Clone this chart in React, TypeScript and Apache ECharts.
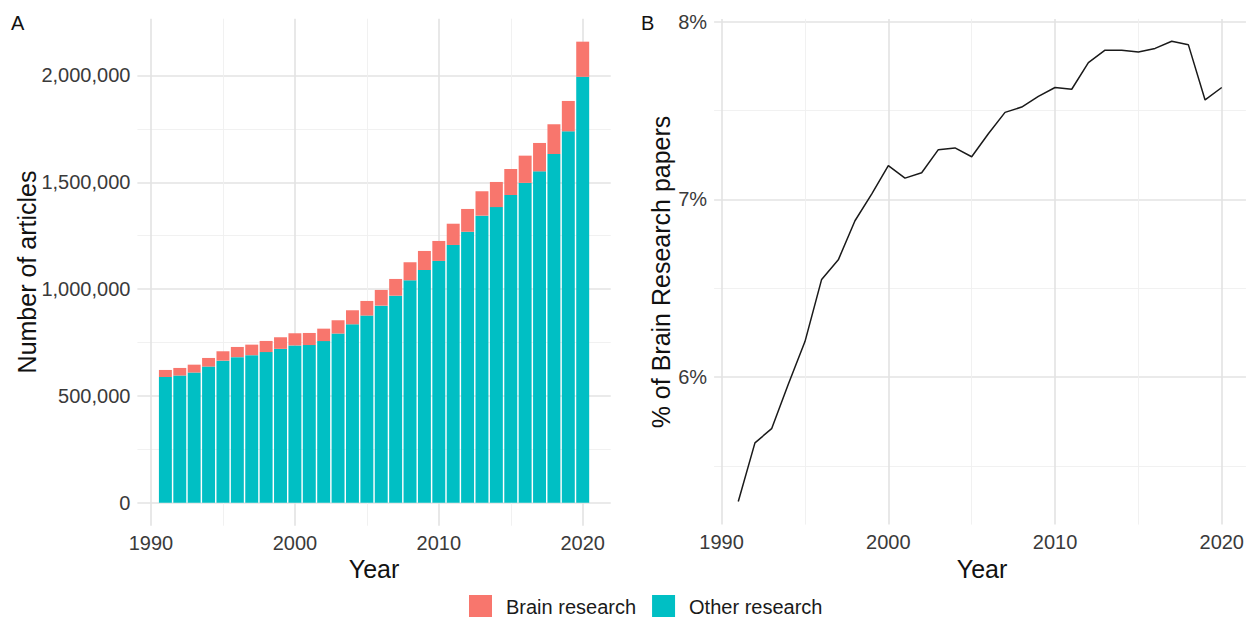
import React, { useEffect, useRef } from "react";
import * as echarts from "echarts";

// ---- data ----
const years = [
  1991, 1992, 1993, 1994, 1995, 1996, 1997, 1998, 1999, 2000,
  2001, 2002, 2003, 2004, 2005, 2006, 2007, 2008, 2009, 2010,
  2011, 2012, 2013, 2014, 2015, 2016, 2017, 2018, 2019, 2020,
];
const otherResearch = [
  588400, 595200, 609200, 637100, 664900, 681300, 690500, 705000, 720000, 736100,
  737900, 756400, 791800, 835100, 876000, 922500, 969000, 1041000, 1089200, 1131800,
  1206500, 1268300, 1343700, 1383800, 1440100, 1497200, 1551200, 1632300, 1738600, 1993700,
];
const brainResearch = [
  32900, 35500, 36900, 40400, 43900, 47700, 49300, 52100, 54400, 57000,
  56600, 58300, 62200, 65700, 68400, 73400, 78400, 84600, 89300, 93500,
  99500, 106800, 114300, 117700, 122300, 127500, 132900, 139400, 142200, 164700,
];
const brainPct = [
  5.30, 5.63, 5.71, 5.96, 6.20, 6.55, 6.66, 6.88, 7.03, 7.19,
  7.12, 7.15, 7.28, 7.29, 7.24, 7.37, 7.49, 7.52, 7.58, 7.63,
  7.62, 7.77, 7.84, 7.84, 7.83, 7.85, 7.89, 7.87, 7.56, 7.63,
];
const yearMajorTicks = [1990, 2000, 2010, 2020];
const yearMinorTicks = [1995, 2005, 2015];
const countMajorTicks = [0, 500000, 1000000, 1500000, 2000000];
const countMinorTicks = [250000, 750000, 1250000, 1750000];
const pctMajorTicks = [6, 7, 8];
const pctMinorTicks = [5.5, 6.5, 7.5];

const FONT = "'Liberation Sans', Arial, Helvetica, sans-serif";
const MAJOR = { color: "#e3e3e3", width: 1.6 };
const MINOR = { color: "#efefef", width: 0.9 };

function majorAxis(extra: any, ticks: number[], fmt: (v: number) => string) {
  return {
    type: "value",
    ...extra,
    axisLine: { show: false },
    axisTick: { show: false, customValues: ticks },
    axisLabel: {
      show: true,
      customValues: ticks,
      formatter: fmt,
      fontFamily: FONT,
      fontSize: 20,
      color: "#3a3a3a",
      margin: 7,
    },
    splitLine: { show: true, lineStyle: MAJOR },
  };
}
function minorAxis(extra: any, ticks: number[]) {
  return {
    type: "value",
    ...extra,
    axisLine: { show: false },
    axisTick: { show: false, customValues: ticks },
    axisLabel: { show: false },
    splitLine: { show: true, lineStyle: MINOR },
  };
}

const fmtYear = (v: number) => String(Math.round(v));
const fmtCount = (v: number) => Math.round(v).toLocaleString("en-US");
const fmtPct = (v: number) => `${v}%`;

export default function App() {
  const ref = useRef<HTMLDivElement>(null);
  useEffect(() => {
    if (!ref.current) return;
    const chart = echarts.init(ref.current, undefined, { renderer: "svg" });
    const leftX = { gridIndex: 0, min: 1989.055, max: 2021.945 };
    const leftY = { gridIndex: 0, min: -107900, max: 2265900 };
    const rightX = { gridIndex: 1, min: 1989.55, max: 2021.45 };
    const rightY = { gridIndex: 1, min: 5.17, max: 8.016 };
    chart.setOption({
      animation: false,
      backgroundColor: "#ffffff",
      textStyle: { fontFamily: FONT },
      grid: [
        { left: 137.4, right: 636.3, top: 18.7, bottom: 91.3, containLabel: false },
        { left: 714.1, right: -3, top: 18.9, bottom: 92.4, containLabel: false },
        // band area for the bars (1990.5 .. 2020.5 of the left panel)
        { left: 158.2, right: 657.1, top: 18.7, bottom: 91.3, containLabel: false },
      ],
      xAxis: [
        majorAxis(leftX, yearMajorTicks, fmtYear),
        minorAxis(leftX, yearMinorTicks),
        majorAxis(rightX, yearMajorTicks, fmtYear),
        minorAxis(rightX, yearMinorTicks),
        { type: "category", gridIndex: 2, data: years.map(String), show: false, boundaryGap: true },
      ],
      yAxis: [
        majorAxis(leftY, countMajorTicks, fmtCount),
        minorAxis(leftY, countMinorTicks),
        majorAxis(rightY, pctMajorTicks, fmtPct),
        minorAxis(rightY, pctMinorTicks),
        { type: "value", gridIndex: 2, min: -107900, max: 2265900, show: false, splitLine: { show: false } },
      ],
      legend: {
        data: ["Brain research", "Other research"],
        left: 469,
        top: 595,
        padding: 0,
        icon: "rect",
        itemWidth: 23,
        itemHeight: 23,
        itemGap: 16,
        textStyle: { fontFamily: FONT, fontSize: 20, lineHeight: 20, color: "#1a1a1a", padding: [0, 0, 0, 9] },
      },
      series: [
        {
          name: "Other research",
          type: "bar",
          stack: "total",
          xAxisIndex: 4,
          yAxisIndex: 4,
          barWidth: "90%",
          itemStyle: { color: "#00BFC4" },
          data: otherResearch,
        },
        {
          name: "Brain research",
          type: "bar",
          stack: "total",
          xAxisIndex: 4,
          yAxisIndex: 4,
          barWidth: "90%",
          itemStyle: { color: "#F8766D" },
          data: brainResearch,
        },
        {
          name: "% of Brain Research papers",
          type: "line",
          xAxisIndex: 2,
          yAxisIndex: 2,
          symbol: "none",
          lineStyle: { color: "#1a1a1a", width: 1.5 },
          data: years.map((y, i) => [y, brainPct[i]]),
        },
      ],
      graphic: [
        { type: "text", left: 11, top: 13, style: { text: "A", fontFamily: FONT, fontSize: 20, fill: "#111" } },
        { type: "text", left: 641, top: 13, style: { text: "B", fontFamily: FONT, fontSize: 20, fill: "#111" } },
        {
          type: "text", x: 374, y: 569,
          style: { text: "Year", fontFamily: FONT, fontSize: 25, fill: "#111", align: "center", verticalAlign: "middle" },
        },
        {
          type: "text", x: 982, y: 569,
          style: { text: "Year", fontFamily: FONT, fontSize: 25, fill: "#111", align: "center", verticalAlign: "middle" },
        },
        {
          type: "text", x: 27, y: 272, rotation: Math.PI / 2,
          style: { text: "Number of articles", fontFamily: FONT, fontSize: 25, fill: "#111", align: "center", verticalAlign: "middle" },
        },
        {
          type: "text", x: 661, y: 272, rotation: Math.PI / 2,
          style: { text: "% of Brain Research papers", fontFamily: FONT, fontSize: 25, fill: "#111", align: "center", verticalAlign: "middle" },
        },
      ],
    });
    return () => chart.dispose();
  }, []);
  return (
    <div
      ref={ref}
      style={{ position: "fixed", left: 0, top: 0, width: 1247, height: 617, background: "#fff" }}
    />
  );
}
